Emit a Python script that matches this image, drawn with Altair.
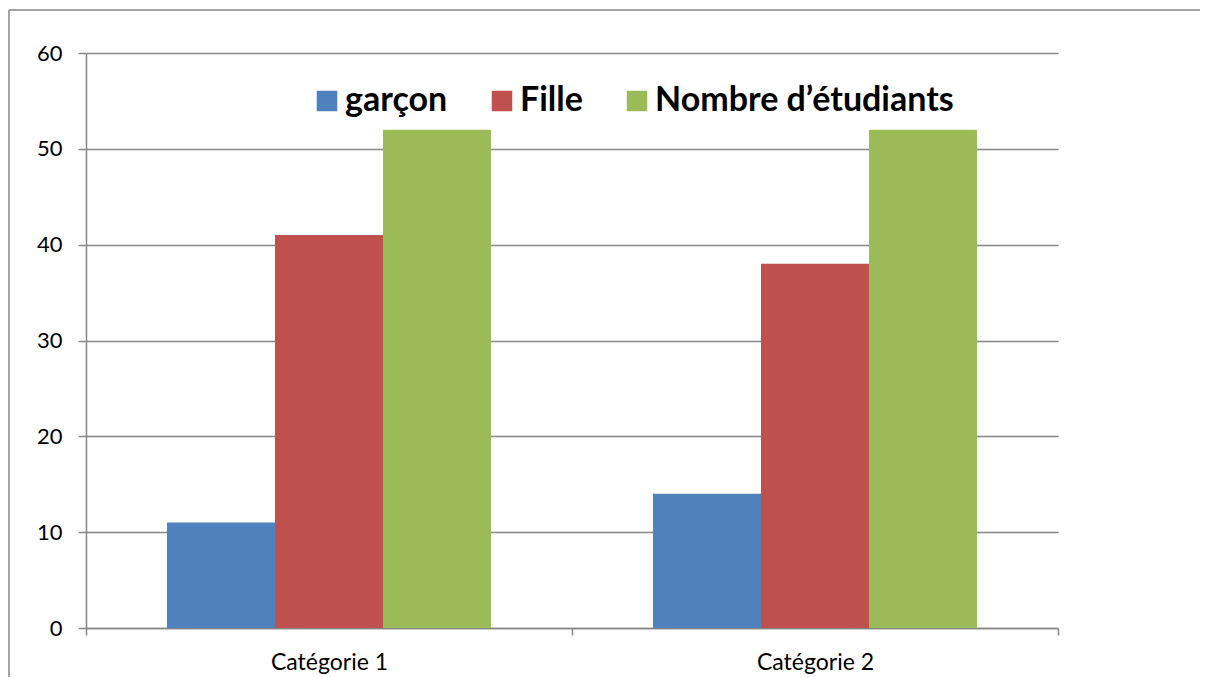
import altair as alt
import pandas as pd

categories = ["Catégorie 1", "Catégorie 2"]
series = ["garçon", "Fille", "Nombre d’étudiants"]
garcon = [11, 14]
fille = [41, 38]
nombre = [52, 52]
colors = ["#4F81BD", "#C0504D", "#9BBB59"]
y_ticks = [0, 10, 20, 30, 40, 50, 60]

rows = []
for i, c in enumerate(categories):
    for s, vals in zip(series, [garcon, fille, nombre]):
        rows.append({"cat": c, "serie": s, "val": vals[i]})
df = pd.DataFrame(rows)

W, H = 972, 575
GRAY = "#868686"
FONT = "Lato"

bars = alt.Chart(df).mark_bar().encode(
    x=alt.X("cat:N", sort=categories,
            scale=alt.Scale(paddingInner=0, paddingOuter=0),
            axis=alt.Axis(title=None, labelAngle=0, tickBand="extent", grid=False,
                          tickSize=7, labelPadding=16, labelFontSize=23)),
    xOffset=alt.XOffset("serie:N", sort=series,
                        scale=alt.Scale(domain=series, paddingInner=0, paddingOuter=0.75)),
    y=alt.Y("val:Q", scale=alt.Scale(domain=[0, 60], nice=False),
            axis=alt.Axis(title=None, values=y_ticks, tickSize=8, labelPadding=16,
                          labelFontSize=22, grid=True)),
    color=alt.Color("serie:N", sort=series,
                    scale=alt.Scale(domain=series, range=colors),
                    legend=alt.Legend(title=None, orient="none", legendX=224, legendY=31,
                                      direction="horizontal", symbolType="square",
                                      symbolSize=420, symbolStrokeWidth=0,
                                      labelFont=FONT, labelFontWeight="bold",
                                      labelFontSize=34, labelOffset=1, columnPadding=37,
                                      labelLimit=600, padding=0, labelColor="black")),
)

frame_data = alt.Data(values=[{}])
frame_left = alt.Chart(frame_data).mark_rule(stroke=GRAY, strokeWidth=1.5).encode(
    x=alt.value(-77), y=alt.value(-43), y2=alt.value(H + 49)
)
frame_top = alt.Chart(frame_data).mark_rule(stroke=GRAY, strokeWidth=1.5).encode(
    x=alt.value(-77), x2=alt.value(W + 142), y=alt.value(-43)
)

chart = alt.layer(frame_left, frame_top, bars).properties(
    width=W, height=H,
    autosize=alt.AutoSizeParams(type="none"),
    padding={"left": 78, "top": 45, "right": 142, "bottom": 50},
).configure_view(strokeWidth=0).configure_axis(
    domainColor=GRAY, domainWidth=1.5, tickColor=GRAY, tickWidth=1.5,
    gridColor=GRAY, gridWidth=1.5, labelFont=FONT, labelColor="black",
)

chart.save("out.html", embed_options={"renderer": "svg", "actions": False})
